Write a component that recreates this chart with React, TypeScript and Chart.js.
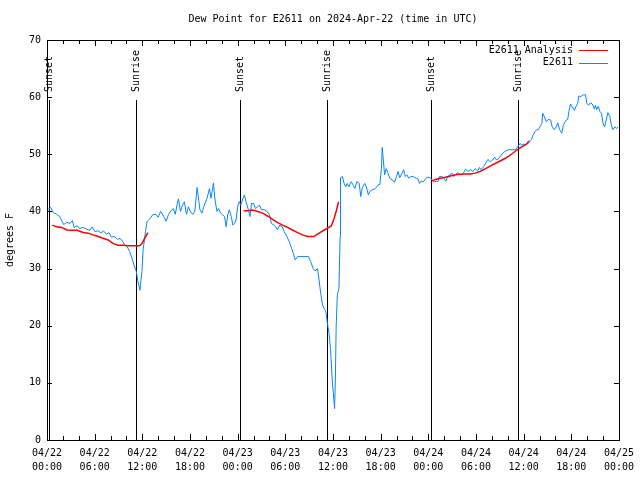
import { useEffect, useRef } from "react";
import { Chart, registerables } from "chart.js";

Chart.register(...registerables);

const FONT_FAMILY = '"DejaVu Sans Mono", "Liberation Mono", monospace';

const titleText = "Dew Point for E2611 on 2024-Apr-22 (time in UTC)";
const yAxisTitle = "degrees F";
const analysisName = "E2611 Analysis";
const stationName = "E2611";

const xTickHours = [0, 6, 12, 18, 24, 30, 36, 42, 48, 54, 60, 66, 72];
const xTickLabels = [
  ["04/22", "00:00"], ["04/22", "06:00"], ["04/22", "12:00"], ["04/22", "18:00"],
  ["04/23", "00:00"], ["04/23", "06:00"], ["04/23", "12:00"], ["04/23", "18:00"],
  ["04/24", "00:00"], ["04/24", "06:00"], ["04/24", "12:00"], ["04/24", "18:00"],
  ["04/25", "00:00"],
];
const yTicks = [0, 10, 20, 30, 40, 50, 60, 70];

const sunEventHours = [0.2, 11.15, 24.3, 35.2, 48.4, 59.25];
const sunEventLabels = ["Sunset", "Sunrise", "Sunset", "Sunrise", "Sunset", "Sunrise"];

// E2611 observations (hours since 04/22 00:00 UTC, dew point °F)
const e2611Hours = [
  0.16, 0.46, 0.8, 1.2, 1.6, 2.1, 2.5, 2.9, 3.2, 3.4, 3.8, 4.1, 4.55, 5.0, 5.4, 5.7, 6.0, 6.45, 6.8, 7.1,
  7.5, 7.8, 8.1, 8.5, 8.9, 9.2, 9.45, 9.8, 10.1, 10.4, 10.7, 10.95, 11.25, 11.45, 11.7, 11.95, 12.1, 12.4, 12.6, 13.05,
  13.3, 13.7, 14.0, 14.3, 14.7, 15.0, 15.3, 15.6, 15.9, 16.15, 16.4, 16.55, 16.8, 17.05, 17.3, 17.55, 17.8, 18.05, 18.35,
  18.6, 18.9, 19.1, 19.25, 19.5, 19.8, 20.15, 20.45, 20.65, 20.95, 21.15, 21.4, 21.6, 21.85, 22.1, 22.35, 22.55, 22.75,
  22.95, 23.2, 23.4, 23.6, 23.8, 24.0, 24.2, 24.4, 24.6, 24.85, 25.05, 25.35, 25.55, 25.75, 26.0, 26.25, 26.5, 26.75,
  27.0, 27.35, 27.7, 28.0, 28.25, 28.6, 28.8, 29.0, 29.3, 29.6, 29.85, 30.2, 30.5, 30.8, 31.0, 31.25, 31.55, 31.95,
  32.6, 32.9, 33.2, 33.5, 33.75, 34.05, 34.25, 34.45, 34.7, 34.9, 35.1, 35.3, 35.5, 35.7, 35.9, 36.05, 36.2, 36.3,
  36.4, 36.55, 36.75, 36.9,
  36.95, 37.2, 37.4, 37.6, 37.8, 38.0, 38.3, 38.55, 38.75, 39.0, 39.3, 39.5, 39.7, 40.0, 40.2, 40.45, 40.65, 40.95,
  41.25, 41.5, 41.7, 41.9, 42.1, 42.2, 42.3, 42.5, 42.7, 42.9, 43.15, 43.45, 43.75, 44.0, 44.2, 44.4, 44.7, 44.9,
  45.1, 45.3, 45.55, 45.8, 46.1, 46.3, 46.5, 46.7, 46.9, 47.1, 47.4, 47.7, 47.95, 48.25, 48.5, 48.75, 49.0, 49.2,
  49.4, 49.7, 50.0, 50.2, 50.45, 50.7, 51.0, 51.2, 51.45, 51.7, 51.95, 52.2, 52.45, 52.7, 53.0, 53.3, 53.6, 53.9, 54.2,
  54.45, 54.65, 54.95, 55.25, 55.5, 55.8, 56.1, 56.35, 56.6, 56.9, 57.2, 57.45, 57.75, 58.1, 58.4, 58.7, 59.0, 59.25,
  59.55, 59.75, 60.05, 60.3, 60.6, 60.8, 61.0, 61.2, 61.45, 61.65, 61.85, 62.05, 62.3, 62.4, 62.6, 62.85, 63.1, 63.4,
  63.6, 63.85, 64.1, 64.3, 64.5, 64.8, 65.0, 65.3, 65.55, 65.7, 65.9, 66.1, 66.4, 66.6, 66.8, 66.95, 67.2, 67.5,
  67.8, 67.95, 68.2, 68.4, 68.65, 68.9, 69.05, 69.2, 69.4, 69.6, 69.8, 70.0, 70.2, 70.4, 70.6, 70.85, 71.05, 71.25,
  71.5, 71.7, 71.9,
];
const e2611Values = [
  40.4, 40.7, 39.8, 39.5, 39.1, 37.7, 38.1, 37.9, 38.4, 37.2, 37.5, 37.0, 37.2, 36.9, 36.7, 37.3, 36.5, 36.6, 36.2, 36.6,
  36.0, 36.3, 35.5, 35.6, 35.1, 35.3, 34.9, 34.1, 33.8, 33.0, 31.8, 30.6, 29.5, 27.7, 26.2, 29.5, 33.3, 36.5, 38.2, 38.9,
  39.4, 39.5, 39.0, 40.0, 39.1, 38.3, 39.5, 40.1, 40.5, 39.5, 41.4, 42.2, 40.0, 41.1, 41.7, 39.5, 40.8, 40.0, 39.5,
  40.0, 44.2, 42.0, 40.3, 39.7, 41.1, 42.3, 44.0, 42.3, 45.0, 42.0, 40.0, 40.5, 39.7, 39.4, 39.1, 37.3, 39.4,
  40.3, 39.1, 37.6, 37.9, 38.5, 40.8, 41.7, 41.1, 42.0, 42.9, 41.7, 40.3, 39.1, 41.4, 41.4, 40.5, 40.8, 41.1,
  40.3, 40.3, 40.0, 39.4, 37.9, 37.6, 37.3, 36.8, 37.6, 37.3, 36.5, 35.6, 34.7, 33.5, 32.7, 31.5, 32.1, 32.1,
  32.1, 32.1, 31.2, 30.0, 29.6, 30.0, 28.0, 25.7, 23.6, 23.0, 22.5, 20.4, 18.7, 15.8, 10.5, 8.2, 5.5, 10.5,
  19.8, 25.4, 26.5, 35.6,
  45.9, 46.1, 44.9, 44.3, 44.9, 44.3, 45.2, 44.6, 44.0, 45.2, 44.9, 42.6, 44.2, 44.9, 44.3, 42.9, 43.5, 43.8,
  43.9, 44.3, 44.7, 44.7, 47.5, 51.2, 49.6, 46.4, 47.5, 46.8, 45.8, 45.5, 45.1, 46.1, 47.0, 45.9, 46.7, 47.3,
  46.1, 46.4, 45.8, 46.1, 46.1, 45.9, 45.8, 45.7, 44.9, 45.3, 45.2, 45.8, 46.0, 45.9, 45.5, 45.2, 45.3, 45.2,
  46.1, 46.1, 45.8, 45.3, 46.1, 46.4, 46.7, 46.1, 46.5, 46.8, 46.5, 46.4, 46.8, 47.4, 47.0, 47.3, 47.0, 47.5, 47.1,
  47.7, 47.3, 47.8, 48.5, 49.1, 48.7, 49.0, 49.5, 49.0, 49.3, 49.9, 50.3, 50.6, 50.8, 50.8, 50.8, 50.8, 51.3,
  51.9, 51.6, 51.8, 51.6, 52.4, 52.2, 52.6, 53.4, 54.0, 54.3, 54.3, 54.8, 55.4, 57.2, 56.6, 55.7, 56.1, 56.0,
  54.8, 54.3, 54.8, 55.5, 54.4, 53.7, 55.1, 55.9, 56.1, 57.5, 58.8, 58.3, 57.7, 58.4, 58.9, 60.2, 60.1, 60.4,
  60.4, 58.9, 58.6, 59.0, 58.8, 57.9, 58.6, 57.8, 58.4, 57.5, 57.2, 55.4, 54.8, 56.0, 57.3, 56.6, 55.1, 54.3,
  54.8, 54.5, 54.8,
];

// E2611 Analysis (null values mark gaps in the analysis line)
const analysisHours = [
  0.67, 1.2, 1.85, 2.5, 3.1, 3.8, 4.55, 5.2, 5.8, 6.45, 7.05, 7.7, 8.3, 8.95, 9.6, 10.2, 10.8, 11.65, 11.95, 12.3, 12.7,
  18.0,
  24.75, 25.25, 25.9, 26.5, 27.15, 27.75, 28.4, 29.0, 29.65, 30.3, 30.9, 31.55, 32.15, 32.8, 33.6, 34.25, 34.9, 35.5,
  35.8, 36.15, 36.45, 36.7,
  42.0,
  48.5, 48.9, 49.5, 50.15, 50.8, 51.4, 52.0, 52.65, 53.3, 53.9, 54.55, 55.15, 56.0, 56.85, 57.7, 58.5, 59.15, 59.75,
  60.4, 60.7,
];
const analysisValues = [
  37.6, 37.3, 37.2, 36.75, 36.7, 36.7, 36.3, 36.2, 35.9, 35.6, 35.3, 35.0, 34.4, 34.1, 34.1, 34.0, 34.0, 34.0, 34.4, 35.3, 36.3,
  null,
  40.1, 40.1, 40.25, 40.0, 39.7, 39.2, 38.6, 38.1, 37.6, 37.2, 36.75, 36.3, 35.9, 35.6, 35.6, 36.2, 36.75, 37.2,
  37.5, 38.8, 40.25, 41.7,
  null,
  45.3, 45.6, 45.8, 46.0, 46.2, 46.4, 46.5, 46.55, 46.55, 46.7, 47.0, 47.45, 48.1, 48.7, 49.3, 50.05, 50.75, 51.3,
  51.8, 52.2,
];

const RED = "#ff0000";
const BLUE = "#0a84ff";

const decorPlugin = {
  id: "gnuplotDecor",
  beforeDatasetsDraw(chart: any) {
    const { ctx, chartArea: a, scales } = chart;
    const xs = scales.x;
    const h = a.bottom - a.top;
    const lineTop = a.bottom - 0.85 * h;
    const textY = a.bottom - 0.87 * h;
    ctx.save();
    ctx.strokeStyle = "#000";
    ctx.lineWidth = 1;
    ctx.fillStyle = "#000";
    ctx.font = `10px ${FONT_FAMILY}`;
    sunEventHours.forEach((hr, i) => {
      const x = Math.round(xs.getPixelForValue(hr)) + 0.5;
      ctx.beginPath();
      ctx.moveTo(x, a.bottom);
      ctx.lineTo(x, lineTop);
      ctx.stroke();
      ctx.save();
      ctx.translate(x, textY);
      ctx.rotate(-Math.PI / 2);
      ctx.textAlign = "left";
      ctx.textBaseline = "middle";
      ctx.fillText(sunEventLabels[i], 0, 0);
      ctx.restore();
    });
    ctx.restore();
  },
  afterDatasetsDraw(chart: any) {
    const { ctx, chartArea: a, scales } = chart;
    const xs = scales.x;
    const ys = scales.y;
    ctx.save();
    ctx.strokeStyle = "#000";
    ctx.lineWidth = 1;
    // border
    ctx.strokeRect(Math.round(a.left) + 0.5, Math.round(a.top) + 0.5, Math.round(a.right - a.left), Math.round(a.bottom - a.top));
    // y ticks (left and right, inward)
    yTicks.forEach((v) => {
      const y = Math.round(ys.getPixelForValue(v)) + 0.5;
      ctx.beginPath();
      ctx.moveTo(a.left, y);
      ctx.lineTo(a.left + 5, y);
      ctx.moveTo(a.right, y);
      ctx.lineTo(a.right - 5, y);
      ctx.stroke();
    });
    // x ticks every 2 hours, longer at labelled positions
    for (let hr = 0; hr <= 72; hr += 2) {
      const x = Math.round(xs.getPixelForValue(hr)) + 0.5;
      const len = xTickHours.includes(hr) ? 6 : 4;
      ctx.beginPath();
      ctx.moveTo(x, a.bottom);
      ctx.lineTo(x, a.bottom - len);
      ctx.moveTo(x, a.top);
      ctx.lineTo(x, a.top + len);
      ctx.stroke();
    }
    // legend (text then sample, right-aligned)
    ctx.font = `10px ${FONT_FAMILY}`;
    ctx.fillStyle = "#000";
    ctx.textAlign = "right";
    ctx.textBaseline = "middle";
    chart.data.datasets.forEach((ds: any, i: number) => {
      const y = a.top + 10 + i * 12.7;
      ctx.fillText(ds.label, a.right - 46, y);
      ctx.strokeStyle = ds.borderColor;
      ctx.lineWidth = 1;
      ctx.beginPath();
      ctx.moveTo(a.right - 40, Math.round(y) + 0.5);
      ctx.lineTo(a.right - 11, Math.round(y) + 0.5);
      ctx.stroke();
    });
    ctx.restore();
  },
};

export default function App() {
  const canvasRef = useRef<HTMLCanvasElement>(null);

  useEffect(() => {
    document.body.style.margin = "0";
    const canvas = canvasRef.current;
    if (!canvas) return;

    const analysisData = analysisHours.map((x, i) => ({ x, y: analysisValues[i] }));
    const stationData = e2611Hours.map((x, i) => ({ x, y: e2611Values[i] }));

    const chart = new Chart(canvas, {
      type: "line",
      data: {
        datasets: [
          {
            label: analysisName,
            data: analysisData as any,
            borderColor: RED,
            borderWidth: 1.5,
            pointRadius: 0,
            tension: 0,
            spanGaps: false,
          },
          {
            label: stationName,
            data: stationData as any,
            borderColor: BLUE,
            borderWidth: 1,
            pointRadius: 0,
            tension: 0,
          },
        ],
      },
      options: {
        animation: false,
        responsive: false,
        devicePixelRatio: 1,
        parsing: true,
        layout: { padding: { left: 0, right: 19, top: 0, bottom: 0 } },
        plugins: {
          legend: { display: false },
          tooltip: { enabled: false },
          title: {
            display: true,
            text: titleText,
            fullSize: false,
            color: "#000",
            font: { family: FONT_FAMILY, size: 10, weight: "normal" },
            padding: { top: 13, bottom: 15 },
          },
        },
        scales: {
          x: {
            type: "linear",
            min: 0,
            max: 72,
            grid: { display: false, drawTicks: false },
            border: { display: false },
            afterBuildTicks: (scale: any) => {
              scale.ticks = xTickHours.map((v) => ({ value: v }));
            },
            afterFit: (scale: any) => {
              scale.height = 40;
            },
            ticks: {
              autoSkip: false,
              maxRotation: 0,
              minRotation: 0,
              padding: 6,
              color: "#000",
              font: { family: FONT_FAMILY, size: 10, lineHeight: 1.4 },
              callback: (_v: any, i: number) => xTickLabels[i],
            },
          },
          y: {
            type: "linear",
            min: 0,
            max: 70,
            grid: { display: false, drawTicks: false },
            border: { display: false },
            afterBuildTicks: (scale: any) => {
              scale.ticks = yTicks.map((v) => ({ value: v }));
            },
            afterFit: (scale: any) => {
              scale.width = 47;
            },
            ticks: {
              padding: 6,
              color: "#000",
              font: { family: FONT_FAMILY, size: 10 },
              callback: (v: any) => String(v),
            },
            title: {
              display: true,
              text: yAxisTitle,
              color: "#000",
              font: { family: FONT_FAMILY, size: 10 },
              padding: { top: 4, bottom: 0 },
            },
          },
        },
      },
      plugins: [decorPlugin],
    });

    return () => chart.destroy();
  }, []);

  return (
    <div style={{ width: 640, height: 480 }}>
      <canvas ref={canvasRef} width={640} height={480} style={{ display: "block" }} />
    </div>
  );
}
